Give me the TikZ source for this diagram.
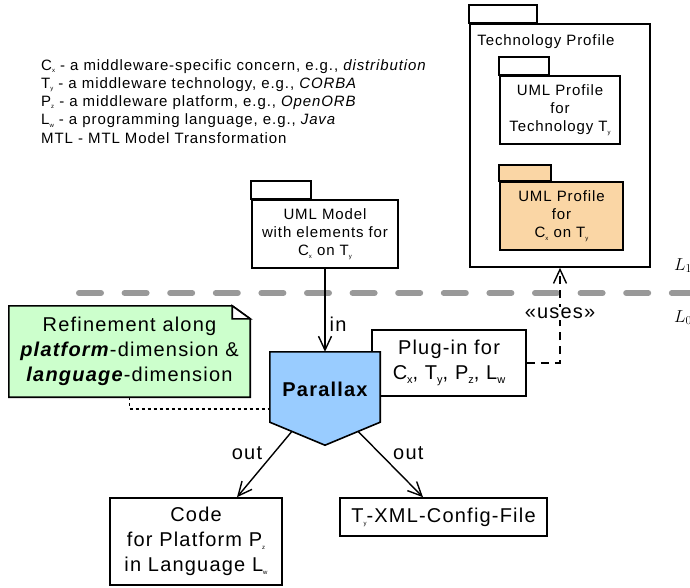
\documentclass[tikz,border=0pt]{standalone}
\usepackage{fontspec}
\setmainfont{Liberation Sans}[LetterSpace=6]
\usetikzlibrary{arrows.meta,calc,backgrounds}
\definecolor{notegreen}{HTML}{CCFFCC}
\definecolor{pxblue}{HTML}{99CCFF}
\definecolor{profileorange}{HTML}{FAD6A5}
\definecolor{levelgray}{HTML}{999999}
% tiny and medium index letters (C_x, T_y, ...)
\newcommand\ssub[1]{\raisebox{-0.3ex}{\fontsize{6}{6}\selectfont #1}}
\newcommand\msub[1]{\raisebox{-0.45ex}{\fontsize{11}{11}\selectfont #1}}
\newcommand\smallfont{\fontsize{15}{18}\selectfont}
\newcommand\largefont{\fontsize{20}{25}\selectfont}
\begin{document}
\begin{tikzpicture}[x=1pt,y=-1pt,
  box/.style={draw, line width=1.6pt, fill=white, align=center, inner sep=0pt, font=\smallfont},
  bigbox/.style={box, font=\largefont},
  tab/.style={draw, line width=1.6pt},
  arr/.style={line width=1.4pt, -{Straight Barb[length=14pt,width=13pt]}},
  dasharr/.style={arr, dash pattern=on 8pt off 6pt},
  dotline/.style={line width=1.5pt, dash pattern=on 3pt off 3pt},
  lbl/.style={font=\largefont, inner sep=1pt},
  levellbl/.style={anchor=base west, font=\fontsize{17}{17}\selectfont, inner sep=0pt}]
\useasboundingbox (0,0) rectangle (690,587);

% level separator
\draw[levelgray, line width=6pt, line cap=round, dash pattern=on 22pt off 23.6pt] (79,293) -- (720,293);
\node[levellbl] (lone) at (674,270) {$L_1$};
\node[levellbl] (lzero) at (674,322) {$L_0$};

% legend
\node[anchor=north west, align=left, inner sep=0pt, font=\fontsize{15}{18.25}\selectfont] (legend) at (41,59)
  {C\ssub{x} - a middleware-specific concern, e.g., \textit{distribution}\\
   T\ssub{y} - a middleware technology, e.g., \textit{CORBA}\\
   P\ssub{z} - a middleware platform, e.g., \textit{OpenORB}\\
   L\ssub{w} - a programming language, e.g., \textit{Java}\\
   MTL - MTL Model Transformation};

% technology profile package
\node[box, minimum width=180, minimum height=243] (tp) at (560,145.5) {};
\draw[tab] (tp.north west) rectangle ++(68,-18);
\node[anchor=base west, font=\smallfont, inner sep=0pt] (tptitle) at ($(tp.north west)+(8,22)$) {Technology Profile};

\node[box, minimum width=120, minimum height=68] (uptech) at (560,110) {UML Profile\\for\\Technology T\ssub{y}};
\draw[tab] (uptech.north west) rectangle ++(50,-18);

\node[box, fill=profileorange, minimum width=123, minimum height=68] (upconcern) at (561.5,216) {UML Profile\\for\\C\ssub{x} on T\ssub{y}};
\draw[tab, fill=profileorange] (upconcern.north west) rectangle ++(52,-16);

% input model
\node[box, minimum width=146, minimum height=68] (model) at (325,234) {UML Model\\with elements for\\C\ssub{x} on T\ssub{y}};
\draw[tab] (model.north west) rectangle ++(60,-18);

% refinement note
\node[minimum width=241, minimum height=91, inner sep=0pt, align=center, font=\largefont] (note) at (129.5,351.5)
  {Refinement along\\\textbf{\textit{platform}}-dimension \&\\\textbf{\textit{language}}-dimension};
\begin{scope}[on background layer]
  \draw[line width=1.6pt, fill=notegreen] (note.north west) -- ($(note.north east)+(-18,0)$) -- ($(note.north east)+(0,13)$)
    -- (note.south east) -- (note.south west) -- cycle;
  \draw[line width=1.6pt, fill=white] ($(note.north east)+(-18,0)$) -- ($(note.north east)+(-18,13)$) -- ($(note.north east)+(0,13)$) -- cycle;
\end{scope}

% plug-in
\node[bigbox, minimum width=154, minimum height=66] (plugin) at (449,363) {Plug-in for\\C\msub{x}, T\msub{y}, P\msub{z}, L\msub{w}};

% parallax transformation
\node[minimum width=110, minimum height=70, inner sep=0pt] (px) at (325,387) {};
\coordinate (pxtip) at ($(px.south)+(0,23)$);
\draw[line width=1.6pt, fill=pxblue] (px.north west) -- (px.north east) -- (px.south east) -- (pxtip) -- (px.south west) -- cycle;
\node[font=\largefont\bfseries, inner sep=0pt] (pxlabel) at ($(px.center)+(0,2)$) {Parallax};

% outputs
\node[bigbox, minimum width=172, minimum height=87] (code) at (196,541.5) {Code\\for Platform P\ssub{z}\\in Language L\ssub{w}};
\node[bigbox, minimum width=207, minimum height=38] (xml) at (443.5,517) {T\ssub{y}-XML-Config-File};

% connectors
\draw[arr] (model.south) -- node[lbl, pos=0.67, right=3pt] {in} (px.north);
\draw[arr] ($(px.south west)!0.4!(pxtip)$) -- node[lbl, pos=0.33, anchor=east, xshift=-10pt] {out} ($(code.north)+(41,0)$);
\draw[arr] ($(px.south east)!0.4!(pxtip)$) -- node[lbl, pos=0.33, anchor=west, xshift=12pt] {out} ($(xml.north)+(-20.5,0)$);
\draw[dasharr] (plugin.east) -| node[lbl, pos=0.76, fill=white] {«uses»} (tp.south);
\draw[dotline] (note.south) |- ($(px.west)!0.63!(px.south west)$);
\end{tikzpicture}
\end{document}
